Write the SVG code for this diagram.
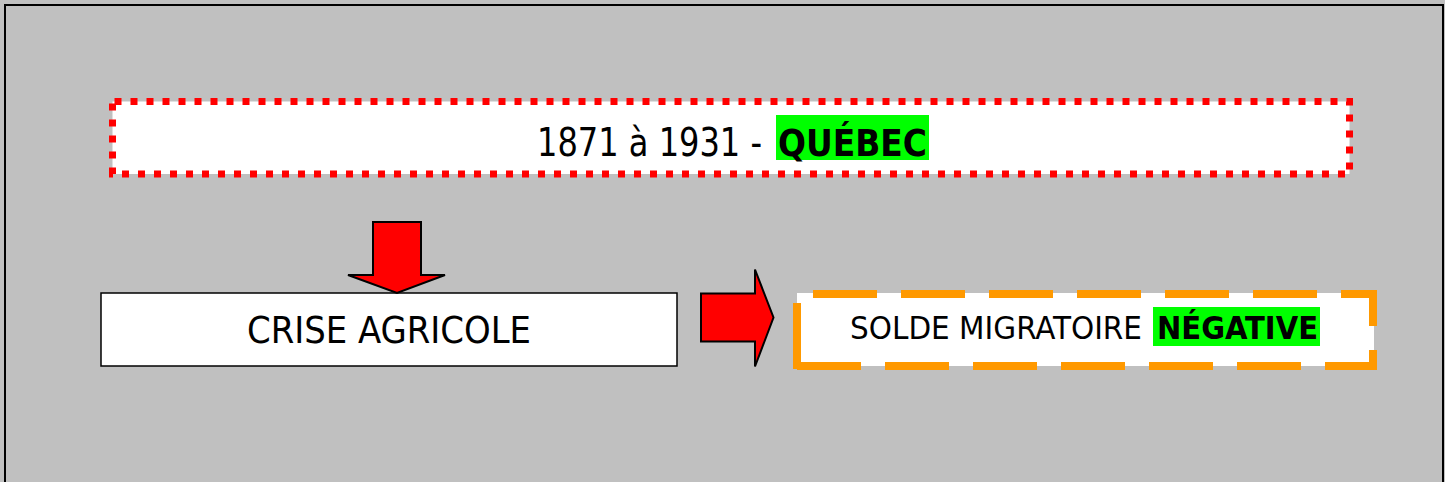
<svg xmlns="http://www.w3.org/2000/svg" width="1445" height="482" viewBox="0 0 1445 482">
<style>
.t{font-family:"DejaVu Sans Condensed","DejaVu Sans",sans-serif;fill:#000}
.b{font-weight:bold}
.hl{fill:#00FF00}
.arrow{fill:#FF0000;stroke:#000;stroke-width:2;stroke-linejoin:miter}
.or{stroke:#FF9900;stroke-width:8;fill:none}
</style>
<rect x="0" y="0" width="1445" height="482" fill="#C0C0C0"/>
<rect x="5" y="5" width="1438" height="490" fill="none" stroke="#000" stroke-width="2"/>
<g id="title">
<rect x="112.5" y="101.5" width="1237" height="72.5" fill="#fff" stroke="#FF0000" stroke-width="7" stroke-dasharray="7 9" stroke-dashoffset="-2"/>
<rect class="hl" x="776" y="115" width="153" height="45"/>
<text class="t" x="537" y="156" font-size="39" textLength="225" lengthAdjust="spacingAndGlyphs">1871 à 1931 -</text>
<text class="t b" x="778" y="156" font-size="38" textLength="149" lengthAdjust="spacingAndGlyphs">QUÉBEC</text>
</g>
<g id="crise">
<rect x="101" y="293" width="576" height="73" fill="#fff" stroke="#000" stroke-width="1.5"/>
<text class="t" x="247" y="343" font-size="38" textLength="284" lengthAdjust="spacingAndGlyphs">CRISE AGRICOLE</text>
</g>
<g id="solde">
<rect x="797" y="293" width="577" height="73" fill="#fff"/>
<line class="or" x1="797" y1="294" x2="1377" y2="294" stroke-dasharray="64 24" stroke-dashoffset="72"/>
<line class="or" x1="1373" y1="290" x2="1373" y2="370" stroke-dasharray="64 24" stroke-dashoffset="28"/>
<line class="or" x1="797" y1="366" x2="1377" y2="366" stroke-dasharray="64 24"/>
<line class="or" x1="797" y1="303" x2="797" y2="369"/>
<rect class="hl" x="1153" y="307" width="167" height="39"/>
<text class="t" x="850" y="339" font-size="32" textLength="292" lengthAdjust="spacingAndGlyphs">SOLDE MIGRATOIRE</text>
<text class="t b" x="1157" y="339" font-size="32" textLength="161" lengthAdjust="spacingAndGlyphs">NÉGATIVE</text>
</g>
<g id="connectors">
<polygon class="arrow" points="373,222 421,222 421,275 445,275 397,293 348,275 373,275"/>
<polygon class="arrow" points="701,293.5 755,293.5 755,269.5 773.5,317.5 755,366.5 755,341.5 701,341.5"/>
</g>
</svg>
